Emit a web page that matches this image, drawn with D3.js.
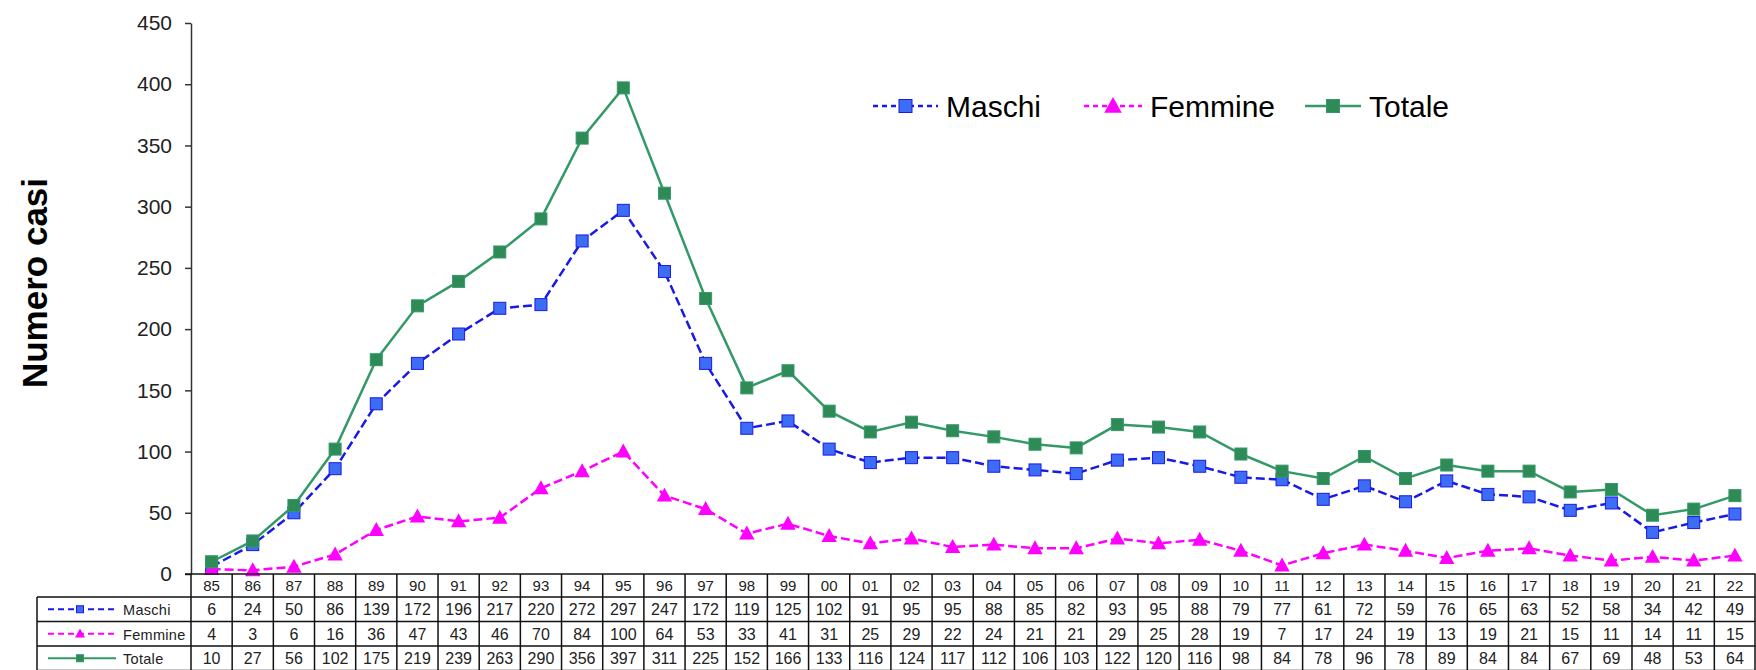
<!DOCTYPE html>
<html>
<head>
<meta charset="utf-8">
<script src="https://cdn.jsdelivr.net/npm/d3@7"></script>
<style>
  body { margin: 0; background: #fff; }
  text { font-family: "Liberation Sans", Arial, sans-serif; }
</style>
</head>
<body>
<div id="chart"></div>
<script>
// data
const years = ["85","86","87","88","89","90","91","92","93","94","95","96","97","98","99",
  "00","01","02","03","04","05","06","07","08","09","10","11","12","13","14","15","16","17",
  "18","19","20","21","22"];
const maschi = [6,24,50,86,139,172,196,217,220,272,297,247,172,119,125,102,91,95,95,88,
  85,82,93,95,88,79,77,61,72,59,76,65,63,52,58,34,42,49];
const femmine = [4,3,6,16,36,47,43,46,70,84,100,64,53,33,41,31,25,29,22,24,
  21,21,29,25,28,19,7,17,24,19,13,19,21,15,11,14,11,15];
const totale = [10,27,56,102,175,219,239,263,290,356,397,311,225,152,166,133,116,124,117,112,
  106,103,122,120,116,98,84,78,96,78,89,84,84,67,69,48,53,64];
const yTicks = [0,50,100,150,200,250,300,350,400,450];

const width = 1756, height = 670;
const axisX = 191, plotTop = 23, plotBottom = 574;
const rowH = 24.5;

const series = [
  { name: "Maschi", values: maschi, color: "#1a1ae6", fill: "#3d6cf5", dash: "9,4", marker: "square" },
  { name: "Femmine", values: femmine, color: "#ff00ff", fill: "#ff00ff", dash: "9,4", marker: "triangle" },
  { name: "Totale", values: totale, color: "#339966", fill: "#2e8b57", dash: null, marker: "square" }
];

const svg = d3.select("#chart")
  .append("svg")
  .attr("width", width)
  .attr("height", height);

const xScale = d3.scaleBand()
  .domain(years)
  .range([axisX, width - 0.5])
  .padding(0);

const yScale = d3.scaleLinear()
  .domain([0, 450])
  .range([plotBottom, plotTop]);

// y axis
const leftAxis = d3.axisLeft(yScale)
  .tickValues(yTicks)
  .tickSizeOuter(0)
  .tickSizeInner(6)
  .tickPadding(13);

const yAxisG = svg.append("g")
  .attr("transform", `translate(${axisX},0)`)
  .call(leftAxis);
yAxisG.select(".domain").attr("stroke", "#333").attr("stroke-width", 1.5);
yAxisG.selectAll(".tick line").attr("stroke", "#333").attr("stroke-width", 1.5);
yAxisG.selectAll(".tick text")
  .attr("font-size", 21)
  .attr("fill", "#222")
  .style("font-family", "'Liberation Sans', Arial, sans-serif");

svg.append("text")
  .text("Numero casi")
  .attr("transform", `translate(47, 283) rotate(-90)`)
  .attr("text-anchor", "middle")
  .attr("font-size", 35)
  .attr("font-weight", "bold")
  .attr("fill", "#000");

// marker drawing
const drawMarker = (g, s, size) => {
  if (s.marker === "square") {
    g.append("rect")
      .attr("x", -size / 2).attr("y", -size / 2)
      .attr("width", size).attr("height", size)
      .attr("fill", s.fill)
      .attr("stroke", s.color)
      .attr("stroke-width", 1);
  } else {
    const h = size * 0.95;
    g.append("path")
      .attr("d", `M0,${-h * 0.6}L${size * 0.55},${h * 0.45}L${-size * 0.55},${h * 0.45}Z`)
      .attr("fill", s.fill);
  }
};

const lineGen = d3.line()
  .x((d, i) => xScale(years[i]) + xScale.bandwidth() / 2)
  .y(d => yScale(d));

// lines and markers
series.forEach(s => {
  svg.append("path")
    .datum(s.values)
    .attr("d", lineGen)
    .attr("fill", "none")
    .attr("stroke", s.color)
    .attr("stroke-width", 2.5)
    .attr("stroke-dasharray", s.dash);

  svg.append("g")
    .selectAll("g")
    .data(s.values)
    .join("g")
    .attr("transform", (d, i) => `translate(${xScale(years[i]) + xScale.bandwidth() / 2},${yScale(d)})`)
    .each(function () { drawMarker(d3.select(this), s, s.marker === "square" ? 12 : 14); });
});

// legend at top
const legendItems = [
  { x: 873, textX: 946 },
  { x: 1084, textX: 1150 },
  { x: 1305, textX: 1369 }
];
series.forEach((s, i) => {
  const li = legendItems[i];
  const g = svg.append("g").attr("transform", `translate(0,106)`);
  g.append("line")
    .attr("x1", li.x).attr("x2", li.textX - 8)
    .attr("stroke", s.color)
    .attr("stroke-width", 2.5)
    .attr("stroke-dasharray", s.dash ? "5,4" : null);
  const m = g.append("g").attr("transform", `translate(${(li.x + li.textX - 8) / 2},0)`);
  drawMarker(m, s, s.marker === "square" ? 13 : 16);
  g.append("text")
    .text(s.name)
    .attr("x", li.textX)
    .attr("y", 11)
    .attr("font-size", 30)
    .attr("fill", "#000");
});

// data table below the plot
const table = svg.append("g");
const tableLeft = 37;
const headerTop = plotBottom;
const rowsTop = headerTop + 23;

// year header row
table.selectAll(".year")
  .data(years)
  .join("text")
  .attr("x", d => xScale(d) + xScale.bandwidth() / 2)
  .attr("y", headerTop + 17)
  .attr("text-anchor", "middle")
  .attr("font-size", 15)
  .attr("fill", "#222")
  .text(d => d);

series.forEach((s, r) => {
  const y = rowsTop + r * rowH;
  table.selectAll(`.v${r}`)
    .data(s.values)
    .join("text")
    .attr("x", (d, i) => xScale(years[i]) + xScale.bandwidth() / 2)
    .attr("y", y + 18)
    .attr("text-anchor", "middle")
    .attr("font-size", 16)
    .attr("fill", "#222")
    .text(d => d);

  // row key: little line + marker + name
  const k = table.append("g").attr("transform", `translate(0,${y + rowH / 2})`);
  k.append("line")
    .attr("x1", 48).attr("x2", 116)
    .attr("stroke", s.color)
    .attr("stroke-width", 2)
    .attr("stroke-dasharray", s.dash ? "6,4" : null);
  drawMarker(k.append("g").attr("transform", "translate(80,0)"), s, s.marker === "square" ? 7 : 9);
  k.append("text")
    .text(s.name)
    .attr("x", 123)
    .attr("y", 6)
    .attr("font-size", 14.5)
    .attr("letter-spacing", 0.3)
    .attr("fill", "#222");
});

// grid lines of the table
const gridColor = "#111";
const tableBottom = rowsTop + 3 * rowH;
// horizontal
[headerTop, rowsTop, rowsTop + rowH, rowsTop + 2 * rowH, tableBottom].forEach((y, i) => {
  table.append("line")
    .attr("x1", i === 0 ? axisX - 6 : tableLeft)
    .attr("x2", width - 0.5)
    .attr("y1", y).attr("y2", y)
    .attr("stroke", gridColor)
    .attr("stroke-width", 1.5);
});
// vertical
years.forEach(d => {
  table.append("line")
    .attr("x1", xScale(d)).attr("x2", xScale(d))
    .attr("y1", headerTop).attr("y2", tableBottom)
    .attr("stroke", gridColor)
    .attr("stroke-width", 1.5);
});
table.append("line")
  .attr("x1", width - 1).attr("x2", width - 1)
  .attr("y1", headerTop).attr("y2", tableBottom)
  .attr("stroke", gridColor)
  .attr("stroke-width", 1.5);
table.append("line")
  .attr("x1", tableLeft).attr("x2", tableLeft)
  .attr("y1", rowsTop).attr("y2", tableBottom)
  .attr("stroke", gridColor)
  .attr("stroke-width", 1.5);
</script>
</body>
</html>
